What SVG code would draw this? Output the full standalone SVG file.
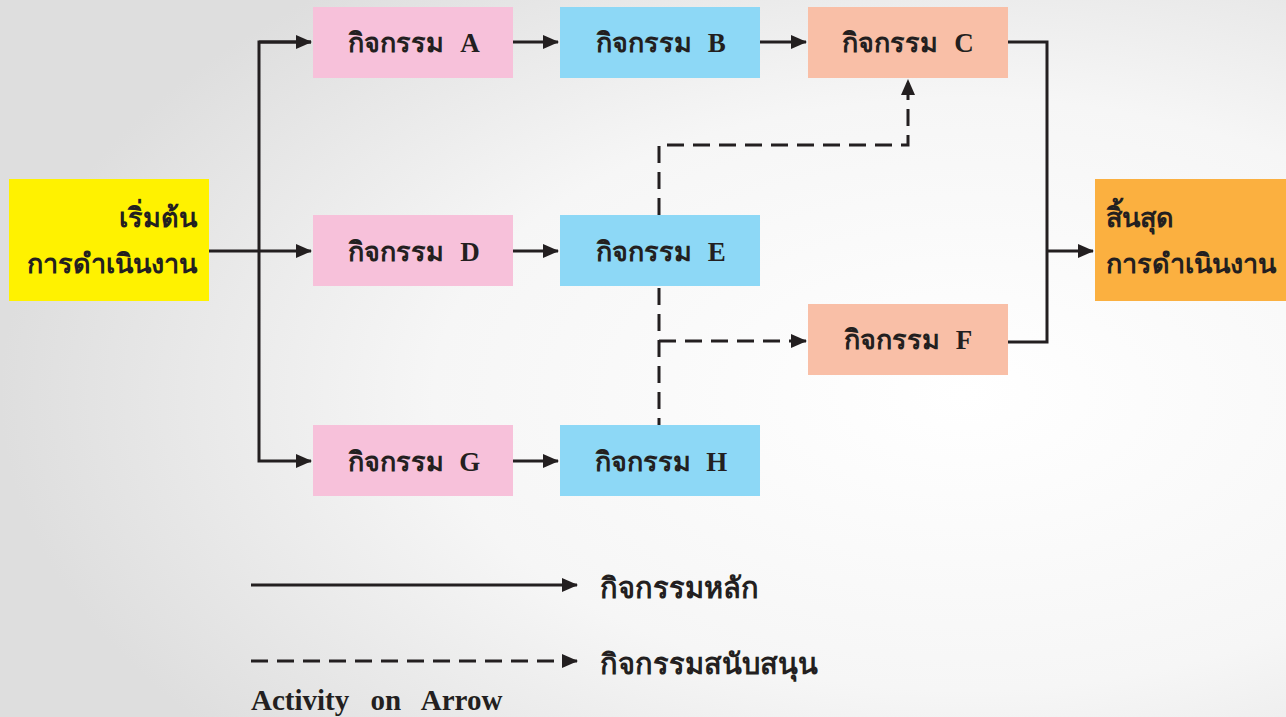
<svg xmlns="http://www.w3.org/2000/svg" width="1286" height="717" viewBox="0 0 1286 717">
<defs>
<radialGradient id="bg" cx="0.75" cy="0.55" r="0.75">
<stop offset="0" stop-color="#ffffff"/>
<stop offset="0.55" stop-color="#f6f6f6"/>
<stop offset="1" stop-color="#dedede"/>
</radialGradient>
<marker id="ah" viewBox="0 0 16 14" refX="15" refY="7" markerWidth="16" markerHeight="14" markerUnits="userSpaceOnUse" orient="auto">
<path d="M0,0 L16,7 L0,14 Z" fill="#231f20"/>
</marker>
<style>
.box{stroke:none}
.lbl{font-family:"Liberation Serif","Noto Sans",serif;font-size:27px;font-weight:bold;fill:#231f20;text-anchor:middle;word-spacing:9px}
.big{font-family:"Noto Sans","DejaVu Sans",sans-serif;font-size:27px;font-weight:bold;fill:#231f20}
.leg{font-family:"Noto Sans","DejaVu Sans",sans-serif;font-size:29px;font-weight:bold;fill:#231f20}
.ln{fill:none;stroke:#231f20;stroke-width:3}
.ds{fill:none;stroke:#231f20;stroke-width:3;stroke-dasharray:17 9}
</style>
</defs>
<rect width="1286" height="717" fill="url(#bg)"/>
<g id="connectors">
<path class="ln" d="M209,251 H311" marker-end="url(#ah)"/>
<path class="ln" d="M311,42 H259 V461 H311" marker-end="url(#ah)"/>
<path class="ln" d="M259,42 H311" marker-end="url(#ah)"/>
<path class="ln" d="M513,42 H558" marker-end="url(#ah)"/>
<path class="ln" d="M760,42 H806" marker-end="url(#ah)"/>
<path class="ln" d="M513,251 H558" marker-end="url(#ah)"/>
<path class="ln" d="M513,461 H558" marker-end="url(#ah)"/>
<path class="ln" d="M1008,42 H1047 V342 H1008"/>
<path class="ln" d="M1047,251 H1093" marker-end="url(#ah)"/>
<path class="ds" d="M659,215 V145 H908 V80" marker-end="url(#ah)"/>
<path class="ds" d="M659,288 V425"/>
<path class="ds" d="M659,341 H806" marker-end="url(#ah)"/>
<path class="ln" d="M251,585 H577" marker-end="url(#ah)"/>
<path class="ds" d="M251,661 H577" marker-end="url(#ah)"/>
</g>
<g id="start">
<rect class="box" x="9" y="179" width="200" height="122" fill="#fff200"/>
<text class="big" x="197" y="227" text-anchor="end">เริ่มต้น</text>
<text class="big" x="197" y="273" text-anchor="end">การดำเนินงาน</text>
</g>
<g id="nodeA"><rect class="box" x="313" y="7" width="200" height="71" fill="#f7c1da"/><text class="lbl" x="414" y="52">กิจกรรม A</text></g>
<g id="nodeB"><rect class="box" x="560" y="7" width="200" height="71" fill="#8dd8f6"/><text class="lbl" x="661" y="52">กิจกรรม B</text></g>
<g id="nodeC"><rect class="box" x="808" y="7" width="200" height="71" fill="#f9bfa7"/><text class="lbl" x="908" y="52">กิจกรรม C</text></g>
<g id="nodeD"><rect class="box" x="313" y="215" width="200" height="71" fill="#f7c1da"/><text class="lbl" x="414" y="261">กิจกรรม D</text></g>
<g id="nodeE"><rect class="box" x="560" y="215" width="200" height="71" fill="#8dd8f6"/><text class="lbl" x="661" y="261">กิจกรรม E</text></g>
<g id="nodeF"><rect class="box" x="808" y="304" width="200" height="71" fill="#f9bfa7"/><text class="lbl" x="908" y="349">กิจกรรม F</text></g>
<g id="nodeG"><rect class="box" x="313" y="425" width="200" height="71" fill="#f7c1da"/><text class="lbl" x="414" y="471">กิจกรรม G</text></g>
<g id="nodeH"><rect class="box" x="560" y="425" width="200" height="71" fill="#8dd8f6"/><text class="lbl" x="661" y="471">กิจกรรม H</text></g>
<g id="end">
<rect class="box" x="1095" y="179" width="191" height="122" fill="#fbb040"/>
<text class="big" x="1106" y="227">สิ้นสุด</text>
<text class="big" x="1106" y="273">การดำเนินงาน</text>
</g>
<g id="legend">
<text class="leg" x="600" y="598">กิจกรรมหลัก</text>
<text class="leg" x="600" y="674">กิจกรรมสนับสนุน</text>
<text x="251" y="710" style="font-family:'Liberation Serif',serif;font-size:29px;font-weight:bold;fill:#231f20;word-spacing:14px">Activity on Arrow</text>
</g>
</svg>
